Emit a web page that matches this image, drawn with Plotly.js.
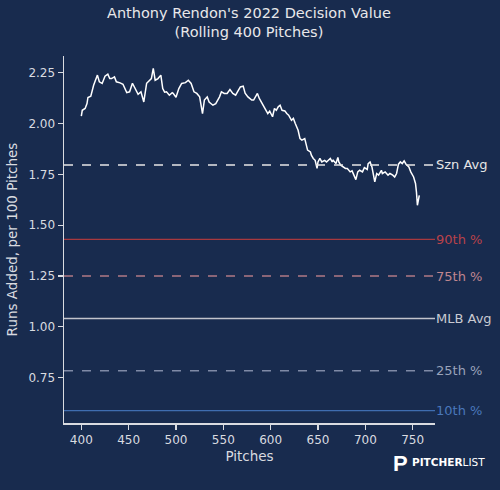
<!DOCTYPE html>
<html>
<head>
<meta charset="utf-8">
<script src="https://cdn.plot.ly/plotly-3.0.1.min.js"></script>
<style>
html,body{margin:0;padding:0;background:#182b4e;}
#chart{width:500px;height:490px;}
</style>
</head>
<body>
<div id="chart"></div>
<script>
// Rolling decision value (pitch number, runs added per 100 pitches)
const pitches = [400,401,404,406,407,410,413,415,417,419,422,425,428,430,432,435,437,441,444,448,451,454,457,460,463,466,469,472,474,476,478,481,484,486,488,490,493,496,497,500,503,506,510,513,516,519,522,525,528,530,533,535,539,542,546,548,551,554,557,560,563,566,568,571,573,576,580,582,586,588,591,594,597,599,602,604,606,608,610,612,615,617,619,622,624,626,628,629,631,633,636,637,639,642,643,645,647,649,650,652,654,657,659,663,665,666,669,671,672,674,677,679,681,684,686,688,690,692,694,697,699,702,703,705,707,710,712,714,717,718,721,724,726,729,731,733,735,737,739,741,743,746,748,751,753,754,755,757];
const values  = [2.036,2.065,2.074,2.098,2.128,2.134,2.188,2.213,2.238,2.205,2.197,2.233,2.243,2.221,2.221,2.229,2.205,2.200,2.193,2.152,2.156,2.198,2.169,2.144,2.156,2.106,2.198,2.213,2.221,2.271,2.213,2.221,2.238,2.172,2.154,2.156,2.139,2.151,2.148,2.129,2.172,2.197,2.201,2.213,2.197,2.156,2.148,2.131,2.049,2.115,2.131,2.106,2.090,2.098,2.131,2.156,2.148,2.148,2.167,2.148,2.139,2.164,2.180,2.184,2.149,2.131,2.115,2.115,2.148,2.123,2.098,2.074,2.049,2.061,2.033,2.074,2.065,2.082,2.090,2.065,2.062,2.049,2.041,2.016,2.025,2.000,1.975,1.967,1.926,1.918,1.926,1.902,1.869,1.860,1.844,1.828,1.819,1.779,1.811,1.828,1.811,1.819,1.811,1.828,1.811,1.819,1.803,1.833,1.811,1.795,1.786,1.779,1.779,1.762,1.767,1.746,1.724,1.762,1.770,1.762,1.783,1.774,1.803,1.811,1.786,1.713,1.754,1.746,1.770,1.754,1.762,1.746,1.754,1.746,1.737,1.754,1.800,1.811,1.803,1.816,1.800,1.786,1.762,1.737,1.705,1.663,1.598,1.647];

// Reference lines
const refNames  = ["Szn Avg","90th %","75th %","MLB Avg","25th %","10th %"];
const refValues = [1.796, 1.430, 1.250, 1.041, 0.784, 0.588];
const refColors = ["#e6e6e6","#a8393f","#b07a85","#c2c4cc","#7f8aa6","#3f6db0"];
const refDash   = ["dash","solid","dash","solid","dash","solid"];
const refLabelColors = ["#e6e6e6","#b8424a","#c0868f","#c8cad2","#9aa3ba","#4a78bb"];

const xTicks = [400,450,500,550,600,650,700,750];
const yTicks = [0.75,1.00,1.25,1.50,1.75,2.00,2.25];

const xRange = [381.7, 773.6];
const yRange = [0.527, 2.332];

const fontFam = "DejaVu Sans, sans-serif";
const axisCol = "#d9dbe0";

const traces = [];
const shapes = [];
const annotations = [];

refValues.forEach((v,i)=>{
  shapes.push({type:"line", xref:"paper", yref:"y", x0:0, x1:1, y0:v, y1:v,
    line:{color:refColors[i], width:1.4, dash:refDash[i]}});
  annotations.push({xref:"paper", yref:"y", x:0.998, y:v, xanchor:"left", yanchor:"middle",
    text:refNames[i], showarrow:false, font:{family:fontFam, size:13, color:refLabelColors[i]}});
});

traces.push({x:pitches, y:values, type:"scatter", mode:"lines",
  line:{color:"#ffffff", width:1.5}, hoverinfo:"skip"});

// title
annotations.push({xref:"paper", yref:"paper", x:0.498, y:1.09, xanchor:"center", yanchor:"middle",
  text:"Anthony Rendon's 2022 Decision Value<br>(Rolling 400 Pitches)", showarrow:false,
  font:{family:fontFam, size:14.5, color:"#e8e8ea"}, align:"center"});

// logo
annotations.push({xref:"paper", yref:"paper", x:(391-64)/371, y:-(463-423)/367, xanchor:"left", yanchor:"middle",
  text:"<b>P</b>", showarrow:false, font:{family:"Liberation Sans, sans-serif", size:22, color:"#ffffff"}});
annotations.push({xref:"paper", yref:"paper", x:(410-64)/371, y:-(462-423)/367, xanchor:"left", yanchor:"middle",
  text:"<b>PITCHER</b>LIST", showarrow:false, font:{family:"DejaVu Sans, sans-serif", size:10.5, color:"#ffffff"}});

const layout = {
  width:500, height:490,
  paper_bgcolor:"#182b4e", plot_bgcolor:"#182b4e",
  margin:{l:64, r:65, t:56, b:67},
  showlegend:false,
  font:{family:fontFam, color:axisCol},
  xaxis:{range:xRange, tickvals:xTicks, ticktext:xTicks.map(String),
    showgrid:false, zeroline:false, showline:true, linecolor:axisCol, linewidth:1.5,
    ticks:"outside", ticklen:5, tickwidth:1.2, tickcolor:axisCol,
    tickfont:{family:fontFam, size:12, color:axisCol},
    title:{text:"Pitches", font:{family:fontFam, size:13.5, color:axisCol}, standoff:5}},
  yaxis:{range:yRange, tickvals:yTicks, ticktext:yTicks.map(v=>v.toFixed(2)),
    showgrid:false, zeroline:false, showline:true, linecolor:axisCol, linewidth:1.5,
    ticks:"outside", ticklen:5, tickwidth:1.2, tickcolor:axisCol,
    tickfont:{family:fontFam, size:12, color:axisCol},
    title:{text:"Runs Added, per 100 Pitches", font:{family:fontFam, size:13.5, color:axisCol}, standoff:7}},
  shapes:shapes,
  annotations:annotations
};

Plotly.newPlot("chart", traces, layout, {staticPlot:true, displayModeBar:false});
</script>
</body>
</html>
